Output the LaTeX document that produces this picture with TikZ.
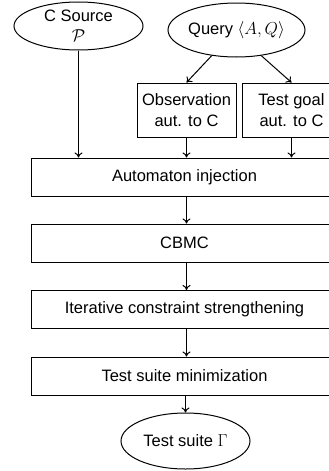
\documentclass[tikz,border=0pt]{standalone}
\usepackage{fontspec}
\setmainfont{Liberation Sans}
\usetikzlibrary{shapes.geometric,arrows.meta}
\begin{document}
\begin{tikzpicture}[
  every node/.style={font=\fontsize{16.5}{21}\selectfont, line width=1pt, inner sep=0pt},
  procbox/.style={draw, rectangle, minimum width=307pt, minimum height=38pt},
  smallbox/.style={draw, rectangle, minimum width=99pt, minimum height=54pt, align=center},
  oval/.style={draw, ellipse, minimum width=129pt, minimum height=48pt, align=center},
  conn/.style={-{To[length=5pt,width=8pt]}, line width=1pt}
]
\useasboundingbox (0pt,0pt) rectangle (329pt,-471pt);
\node[oval, text depth=0pt] (src) at (78.5pt,-26pt) {C Source\\[-1pt]$\mathcal{P}$};
\node[oval, minimum width=137pt, minimum height=54pt] (query) at (236.5pt,-30pt) {Query $\langle A,Q\rangle$};
\node[smallbox] (obs) at (186.5pt,-110pt) {Observation\\aut. to C};
\node[smallbox] (goal) at (291.5pt,-110pt) {Test goal\\aut. to C};
\node[procbox] (auto) at (184.5pt,-177pt) {Automaton injection};
\node[procbox] (cbmc) at (184.5pt,-243pt) {CBMC};
\node[procbox] (iter) at (184.5pt,-309.5pt) {Iterative constraint strengthening};
\node[procbox] (mini) at (184.5pt,-376pt) {Test suite minimization};
\node[oval, minimum height=56pt] (suite) at (185.5pt,-441pt) {Test suite $\Gamma$};
\draw[conn] (src.south) -- (src.south |- auto.north);
\draw[conn] (query.226) -- (obs.north);
\draw[conn] (query.314) -- (goal.north);
\draw[conn] (obs.south) -- (obs.south |- auto.north);
\draw[conn] (goal.south) -- (goal.south |- auto.north);
\draw[conn] (auto.south -| obs.south) -- (cbmc.north -| obs.south);
\draw[conn] (cbmc.south -| obs.south) -- (iter.north -| obs.south);
\draw[conn] (iter.south -| obs.south) -- (mini.north -| obs.south);
\draw[conn] (mini.south -| suite.north) -- (suite.north);
\end{tikzpicture}
\end{document}
